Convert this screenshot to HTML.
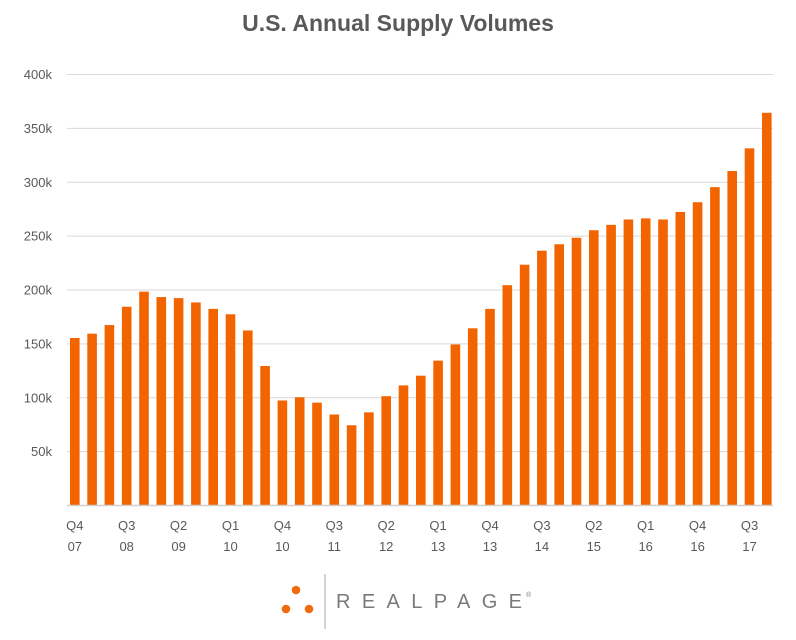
<!DOCTYPE html>
<html><head><meta charset="utf-8"><style>
body{margin:0;background:#fff;width:796px;height:640px;overflow:hidden}
svg{display:block}
text{font-family:"Liberation Sans",sans-serif;fill:#595959}
</style></head><body>
<svg id="s" width="796" height="640" xmlns="http://www.w3.org/2000/svg">
<text x="398" y="31" text-anchor="middle" font-size="23" font-weight="bold">U.S. Annual Supply Volumes</text>
<g id="g"></g>
<line x1="67" y1="505.5" x2="773" y2="505.5" stroke="#d0d0d0" stroke-width="1.5"/>
<circle cx="296" cy="590" r="4.3" fill="#f26a10"/>
<circle cx="286" cy="609" r="4.3" fill="#f26a10"/>
<circle cx="309" cy="609" r="4.3" fill="#f26a10"/>
<line x1="325" y1="574" x2="325" y2="629" stroke="#aaa" stroke-width="1"/>
<text x="336" y="608" font-size="20" textLength="186" lengthAdjust="spacing" style="fill:#7a7a7a">REALPAGE</text>
<text x="526" y="597" font-size="7" style="fill:#7a7a7a">®</text>
</svg>
<script>
var g=document.getElementById('g'),h='';
var y0=505,k=1.0775;
for(var i=0;i<=8;i++){var v=i*50,y=y0-v*k;
 if(i>0)h+='<line x1="67" x2="773" y1="'+(y+0.5)+'" y2="'+(y+0.5)+'" stroke="#d9d9d9" stroke-width="1"/>';
 if(i>0)h+='<text x="52" y="'+(y+5)+'" text-anchor="end" font-size="13">'+v+'k</text>';}
var d=[155,159,167,184,198,193,192,188,182,177,162,129,97,100,95,84,74,86,101,111,120,134,149,164,182,204,223,236,242,248,255,260,265,266,265,272,281,295,310,331,364];
for(var i=0;i<d.length;i++){var x=70+i*17.3,hh=d[i]*k;
 h+='<rect x="'+x+'" y="'+(y0-hh)+'" width="9.6" height="'+hh+'" fill="#f26400"/>';}
var L=[['Q4','07'],['Q3','08'],['Q2','09'],['Q1','10'],['Q4','10'],['Q3','11'],['Q2','12'],['Q1','13'],['Q4','13'],['Q3','14'],['Q2','15'],['Q1','16'],['Q4','16'],['Q3','17']];
for(var j=0;j<L.length;j++){var cx=74.8+j*3*17.3;
 h+='<text x="'+cx+'" y="530" text-anchor="middle" font-size="13">'+L[j][0]+'</text><text x="'+cx+'" y="551" text-anchor="middle" font-size="13">'+L[j][1]+'</text>';}
g.innerHTML=h;
</script>
</body></html>
